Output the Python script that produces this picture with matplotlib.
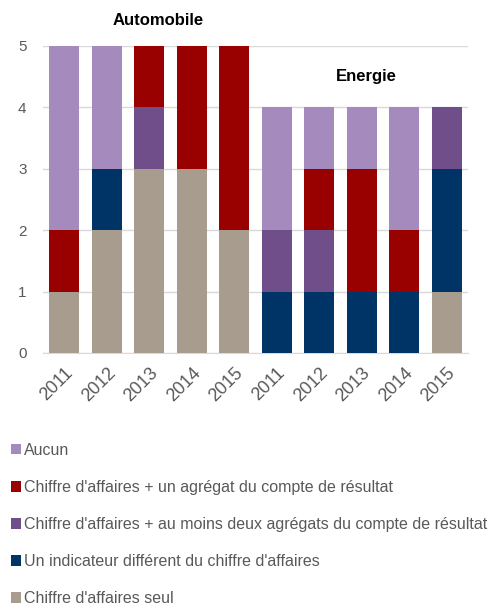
import matplotlib
matplotlib.use("Agg")
import matplotlib.pyplot as plt
import numpy as np
from matplotlib.patches import Patch

plt.rcParams['font.family'] = ['Liberation Sans', 'DejaVu Sans']

years = ["2011", "2012", "2013", "2014", "2015", "2011", "2012", "2013", "2014", "2015"]
groups = ["Automobile", "Energie"]
seul = [1, 2, 3, 3, 2, 0, 0, 0, 0, 1]
indicateur = [0, 1, 0, 0, 0, 1, 1, 1, 1, 2]
deux_agregats = [0, 0, 1, 0, 0, 1, 1, 0, 0, 1]
un_agregat = [1, 0, 1, 2, 3, 0, 1, 2, 1, 0]
aucun = [3, 2, 0, 0, 0, 2, 1, 1, 2, 0]

series = [
    ("Chiffre d'affaires seul", seul, "#A89C8F"),
    ("Un indicateur différent du chiffre d'affaires", indicateur, "#003366"),
    ("Chiffre d'affaires + au moins deux agrégats du compte de résultat", deux_agregats, "#6F4E8A"),
    ("Chiffre d'affaires + un agrégat du compte de résultat", un_agregat, "#990000"),
    ("Aucun", aucun, "#A58BBD"),
]

fig = plt.figure(figsize=(4.9, 6.09), dpi=100)
ax = fig.add_axes([0.088, 0.4204, 0.867, 0.5041])

x = np.arange(len(years))
bottom = np.zeros(len(years))
for name, vals, col in series:
    v = np.array(vals, dtype=float)
    ax.bar(x, v, bottom=bottom, width=0.7, color=col, zorder=3)
    bottom += v

ax.set_xlim(-0.5, len(years) - 0.5)
ax.set_ylim(0, 5)
ax.set_yticks(range(6))
ax.yaxis.grid(True, color="#D9D9D9", linewidth=1, zorder=0)
for s in ["top", "right", "left"]:
    ax.spines[s].set_visible(False)
ax.spines["bottom"].set_color("#D9D9D9")
ax.tick_params(axis="both", length=0, colors="#595959", labelsize=11)
ax.tick_params(axis="y", pad=12)
ax.set_xticks(x)
ax.set_xticklabels(years, rotation=45, ha="right", rotation_mode="anchor", fontsize=13)
ax.tick_params(axis="x", pad=8)

ax.text(2.2, 5.42, groups[0], ha="center", va="center", fontsize=12, fontweight="bold", color="black", clip_on=False)
ax.text(7.1, 4.5, groups[1], ha="center", va="center", fontsize=12, fontweight="bold", color="black")

handles = [Patch(facecolor=col, label=name) for name, vals, col in reversed(series)]
fig.legend(handles=handles, loc="upper left", bbox_to_anchor=(0.022, 0.273), frameon=False,
           handlelength=0.65, handleheight=0.65, handletextpad=0.2, labelspacing=1.38,
           fontsize=11.5, labelcolor="#595959", borderaxespad=0, borderpad=0)

fig.savefig("out.png", dpi=100)
